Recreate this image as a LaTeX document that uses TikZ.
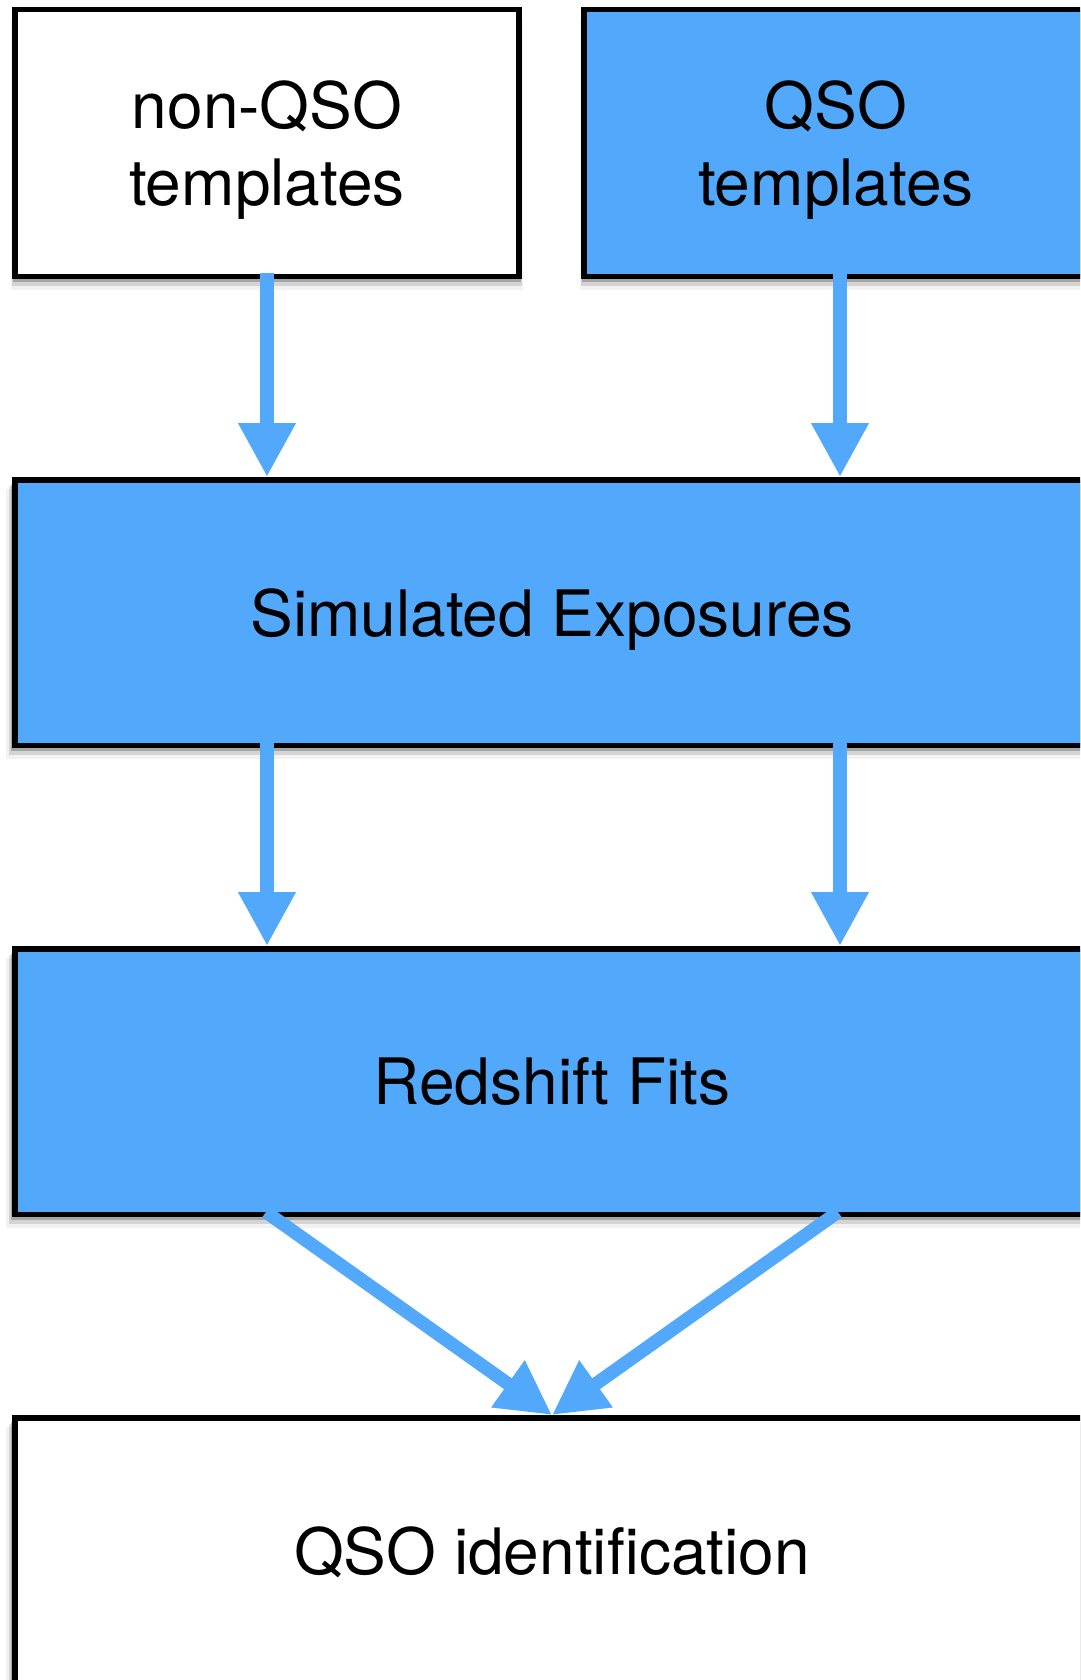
\documentclass[tikz,border=0pt]{standalone}
\usepackage{fontspec}
\setmainfont{TeX Gyre Heros}
\usetikzlibrary{arrows.meta,shadows}
\definecolor{boxblue}{HTML}{52A8FA}
\definecolor{arrowblue}{HTML}{52A8FA}
\begin{document}
\begin{tikzpicture}[x=1pt,y=-1pt,
  shadowed/.style={
    drop shadow={shadow xshift=0pt, shadow yshift=-2pt, opacity=0.35, fill=black, shadow scale=1.004},
    drop shadow={shadow xshift=0pt, shadow yshift=-5pt, opacity=0.22, fill=black, shadow scale=1.008},
    drop shadow={shadow xshift=0pt, shadow yshift=-8pt, opacity=0.12, fill=black, shadow scale=1.012},
    drop shadow={shadow xshift=0pt, shadow yshift=-11pt, opacity=0.05, fill=black, shadow scale=1.016}},
  box/.style={draw=black, line width=5.5pt, rectangle, inner sep=0pt, text depth=0pt,
    font=\fontsize{64}{77}\selectfont, align=center, shadowed},
  smallbox/.style={box, minimum width=504pt, minimum height=266.5pt},
  widebox/.style={box, minimum width=1074pt, minimum height=265.5pt},
  flow/.style={draw=arrowblue, line width=13.3pt, -{Triangle[width=54pt,length=54pt]}}
]
\useasboundingbox (0,0) rectangle (1080,1680);
\clip (0,0) rectangle (1080,1680);
\fill[white] (0,0) rectangle (1080,1680);

\node[smallbox, fill=white] (nonqso) at (267,143) {non-QSO\\templates};
\node[smallbox, fill=boxblue] (qso) at (836,143) {QSO\\templates};
\node[widebox, fill=boxblue] (sim) at (552,612.5) {Simulated Exposures};
\node[widebox, fill=boxblue] (fit) at (552,1081.5) {Redshift Fits};
\node[widebox, fill=white] (qsoid) at (552,1550.5) {QSO identification};

\coordinate (l1) at ([yshift=6pt]nonqso.south);
\coordinate (r1) at ([xshift=4pt,yshift=6pt]qso.south);
\draw[flow] (l1) -- (l1 |- sim.north);
\draw[flow] (r1) -- (r1 |- sim.north);

\coordinate (l2) at (l1 |- sim.south);
\coordinate (r2) at (r1 |- sim.south);
\draw[flow] ([yshift=6pt]l2) -- (l2 |- fit.north);
\draw[flow] ([yshift=6pt]r2) -- (r2 |- fit.north);

\coordinate (l3) at ([xshift=-286pt,yshift=5pt]fit.south);
\coordinate (r3) at ([xshift=286pt,yshift=5pt]fit.south);
\draw[flow] (l3) -- (qsoid.north);
\draw[flow] (r3) -- (qsoid.north);
\end{tikzpicture}
\end{document}
